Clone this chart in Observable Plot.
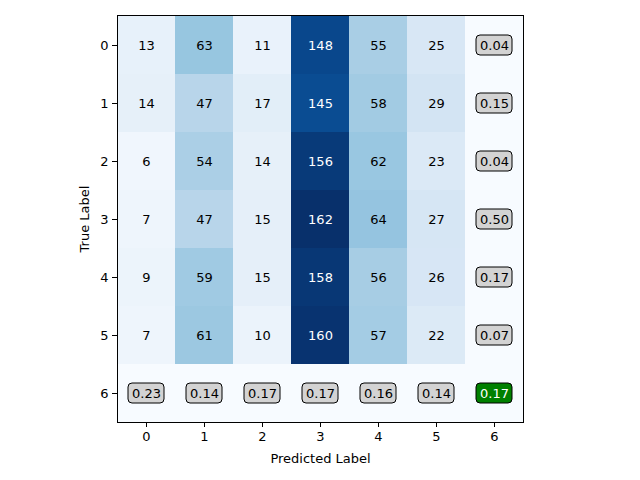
<!DOCTYPE html>
<html><head>
<script src="https://cdn.jsdelivr.net/npm/d3@7"></script>
<script src="https://cdn.jsdelivr.net/npm/@observablehq/plot@0.6"></script>
<style>body{margin:0;background:#fff}</style>
</head><body><div id="chart"></div>
<script>
const labels = [0, 1, 2, 3, 4, 5, 6]
const counts = [
  [13, 63, 11, 148, 55, 25],
  [14, 47, 17, 145, 58, 29],
  [6, 54, 14, 156, 62, 23],
  [7, 47, 15, 162, 64, 27],
  [9, 59, 15, 158, 56, 26],
  [7, 61, 10, 160, 57, 22]
]
const recall = ["0.04", "0.15", "0.04", "0.50", "0.17", "0.07"]
const precision = ["0.23", "0.14", "0.17", "0.17", "0.16", "0.14"]
const overall = "0.17"

const cells = []
for (let t = 0; t < 7; t++) {
  for (let p = 0; p < 7; p++) {
    const v = (t < 6 && p < 6) ? counts[t][p] : 0
    cells.push({t, p, v})
  }
}
const plain = cells.filter(d => d.t < 6 && d.p < 6)
const boxes = []
recall.forEach((r, t) => boxes.push({t, p: 6, label: r, green: false}))
precision.forEach((r, p) => boxes.push({t: 6, p, label: r, green: false}))
boxes.push({t: 6, p: 6, label: overall, green: true})

const chart = Plot.plot({
  width: 640, height: 480,
  marginLeft: 117, marginRight: 117, marginTop: 15, marginBottom: 58,
  style: {fontFamily: "DejaVu Sans", fontSize: "13px", color: "black"},
  x: {domain: labels, padding: 0, label: "Predicted Label", labelAnchor: "center", labelOffset: 40, tickSize: 5},
  y: {domain: labels, padding: 0, label: "True Label", labelAnchor: "center", labelOffset: 38, tickSize: 5},
  color: {type: "linear", scheme: "blues", domain: [0, 162]},
  marks: [
    Plot.cell(cells, {x: "p", y: "t", fill: "v"}),
    Plot.text(plain, {x: "p", y: "t", text: "v", fill: d => d.v > 81 ? "white" : "black", fontSize: 13}),
    Plot.cell(boxes, {x: "p", y: "t", fill: d => d.green ? "green" : "#d3d3d3", stroke: "black", strokeWidth: 1, rx: 4, insetLeft: 11, insetRight: 11, insetTop: 19, insetBottom: 19}),
    Plot.text(boxes, {x: "p", y: "t", text: "label", fill: d => d.green ? "white" : "black", fontSize: 13}),
    Plot.frame({stroke: "black"})
  ]
})
document.getElementById("chart").append(chart)
</script></body></html>
